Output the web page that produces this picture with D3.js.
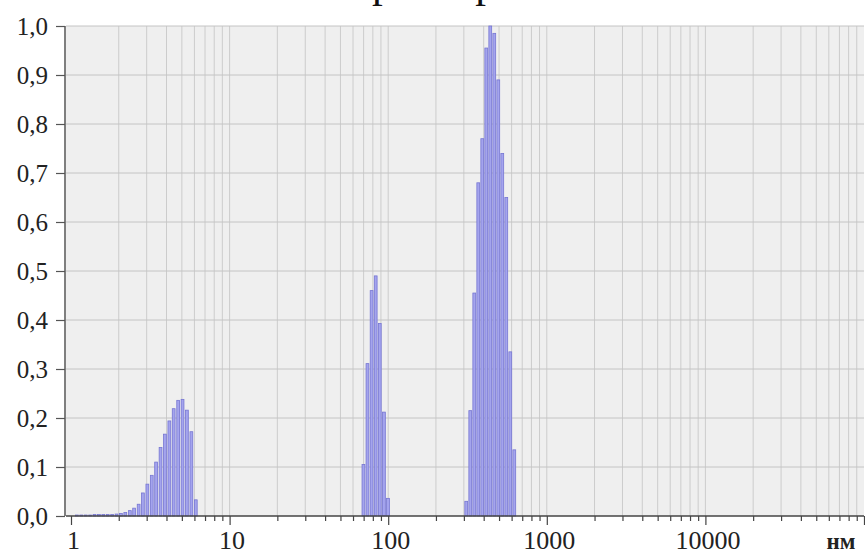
<!DOCTYPE html>
<html>
<head>
<meta charset="utf-8">
<script src="https://cdn.jsdelivr.net/npm/d3@7"></script>
<style>
  html, body { margin: 0; padding: 0; background: #ffffff; }
  svg { display: block; }
</style>
</head>
<body>
<svg id="chart" width="865" height="555"></svg>
<script>
// ---- data ----
const titleText = "Интенсивность и размер";
const sizesNm = [
  1.089, 1.161, 1.238, 1.320, 1.407, 1.500, 1.599, 1.704, 1.817, 1.937, 2.064,
  2.20, 2.35, 2.50, 2.67, 2.84, 3.03, 3.23, 3.44, 3.67, 3.91, 4.17, 4.44, 4.74, 5.05, 5.38, 5.74, 6.12,
  69.8, 74.0, 78.6, 83.4, 88.5, 94.0, 99.7,
  310.5, 329.2, 348.9, 369.7, 391.8, 415.3, 440.1, 466.5, 494.4, 523.9, 555.3, 588.5, 623.7
];
const intensity = [
  0.002, 0.002, 0.002, 0.002, 0.003, 0.003, 0.003, 0.003, 0.003, 0.004, 0.005,
  0.007, 0.011, 0.016, 0.024, 0.047, 0.065, 0.083, 0.110, 0.140, 0.167, 0.194, 0.219, 0.236, 0.238, 0.216, 0.172, 0.033,
  0.105, 0.311, 0.460, 0.490, 0.393, 0.212, 0.036,
  0.030, 0.215, 0.455, 0.680, 0.770, 0.955, 1.000, 0.985, 0.890, 0.740, 0.650, 0.335, 0.135
];
const xTickValues = [1, 10, 100, 1000, 10000];
const xTickLabels = ["1", "10", "100", "1000", "10000"];
const xUnitLabel = "нм";
const yTickValues = [0, 0.1, 0.2, 0.3, 0.4, 0.5, 0.6, 0.7, 0.8, 0.9, 1.0];
const yTickLabels = ["0,0", "0,1", "0,2", "0,3", "0,4", "0,5", "0,6", "0,7", "0,8", "0,9", "1,0"];

// ---- layout ----
const svg = d3.select("#chart");
const plotLeft = 66, plotRight = 864, plotTop = 26, plotBottom = 516;
const x = d3.scaleLog().domain([1, 100000]).range([71, 864]);
const y = d3.scaleLinear().domain([0, 1]).range([plotBottom, plotTop]);
const serif = "Liberation Serif, Times New Roman, Times, serif";

// plot background
svg.append("rect")
  .attr("x", plotLeft).attr("y", plotTop)
  .attr("width", plotRight - plotLeft).attr("height", plotBottom - plotTop)
  .attr("fill", "#efefef");

// minor/major log values for vertical grid
const logVals = [];
for (let e = 0; e < 5; e++) {
  for (let m = 1; m <= 9; m++) logVals.push(m * Math.pow(10, e));
}
logVals.push(100000);

svg.append("g").selectAll("line").data(logVals.filter(v => v > 1 && v < 100000)).join("line")
  .attr("x1", d => x(d)).attr("x2", d => x(d))
  .attr("y1", plotTop).attr("y2", plotBottom)
  .attr("stroke", "#cccccc").attr("stroke-width", 1);

// horizontal grid
svg.append("g").selectAll("line").data(yTickValues.filter(v => v > 0)).join("line")
  .attr("x1", plotLeft).attr("x2", plotRight)
  .attr("y1", d => y(d)).attr("y2", d => y(d))
  .attr("stroke", "#c4c4c4").attr("stroke-width", 1);

// bars
const barData = sizesNm.map((s, i) => ({ s, v: intensity[i] }));
svg.append("g").selectAll("rect").data(barData).join("rect")
  .attr("x", d => x(d.s) - 1.4)
  .attr("width", 2.8)
  .attr("y", d => y(d.v))
  .attr("height", d => plotBottom - y(d.v))
  .attr("fill", "#a4a4ee")
  .attr("stroke", "#7676d2")
  .attr("stroke-width", 0.8);

// y axis
const yAxis = d3.axisLeft(y)
  .tickValues(yTickValues)
  .tickFormat((d, i) => yTickLabels[i])
  .tickSize(9).tickPadding(8);
const gy = svg.append("g").attr("transform", `translate(${plotLeft - 1},0)`).call(yAxis);
gy.select(".domain").attr("stroke", "#555").attr("stroke-width", 1.5)
  .attr("d", `M0,${plotTop}V${plotBottom}`);
gy.selectAll(".tick line").attr("stroke", "#555").attr("stroke-width", 1.2);
gy.selectAll(".tick text")
  .attr("font-family", serif).attr("font-size", 25).attr("fill", "#222");

// x axis (minor ticks)
const xMinor = d3.axisBottom(x)
  .tickValues(logVals.filter(v => !xTickValues.includes(v) && v !== 100000))
  .tickFormat("")
  .tickSize(5);
const gxm = svg.append("g").attr("transform", `translate(0,${plotBottom})`).call(xMinor);
gxm.select(".domain").remove();
gxm.selectAll(".tick line").attr("stroke", "#444").attr("stroke-width", 1.2);

// x axis (major ticks)
const xAxis = d3.axisBottom(x)
  .tickValues(xTickValues.concat([100000]))
  .tickFormat((d, i) => xTickLabels[i] || "")
  .tickSize(9).tickPadding(6);
const gx = svg.append("g").attr("transform", `translate(0,${plotBottom})`).call(xAxis);
gx.select(".domain").attr("stroke", "#444").attr("stroke-width", 1.5)
  .attr("d", `M${plotLeft},0H${plotRight}`);
gx.selectAll(".tick line").attr("stroke", "#444").attr("stroke-width", 1.2);
gx.selectAll(".tick text")
  .attr("font-family", serif).attr("font-size", 26).attr("fill", "#222")
  .attr("dx", 2);

// unit label
svg.append("text")
  .attr("x", 841).attr("y", 549)
  .attr("text-anchor", "middle")
  .attr("font-family", serif).attr("font-size", 23).attr("font-weight", "bold")
  .attr("fill", "#222")
  .text(xUnitLabel);

// title (mostly above the picture; only descenders show)
const title = svg.append("text")
  .attr("x", 0).attr("y", -3)
  .attr("font-family", serif).attr("font-size", 43)
  .attr("fill", "#111")
  .text(titleText);
const idx = titleText.indexOf("размер");
const p0 = title.node().getStartPositionOfChar(idx).x;
title.attr("x", 372 - p0);
</script>
</body>
</html>
